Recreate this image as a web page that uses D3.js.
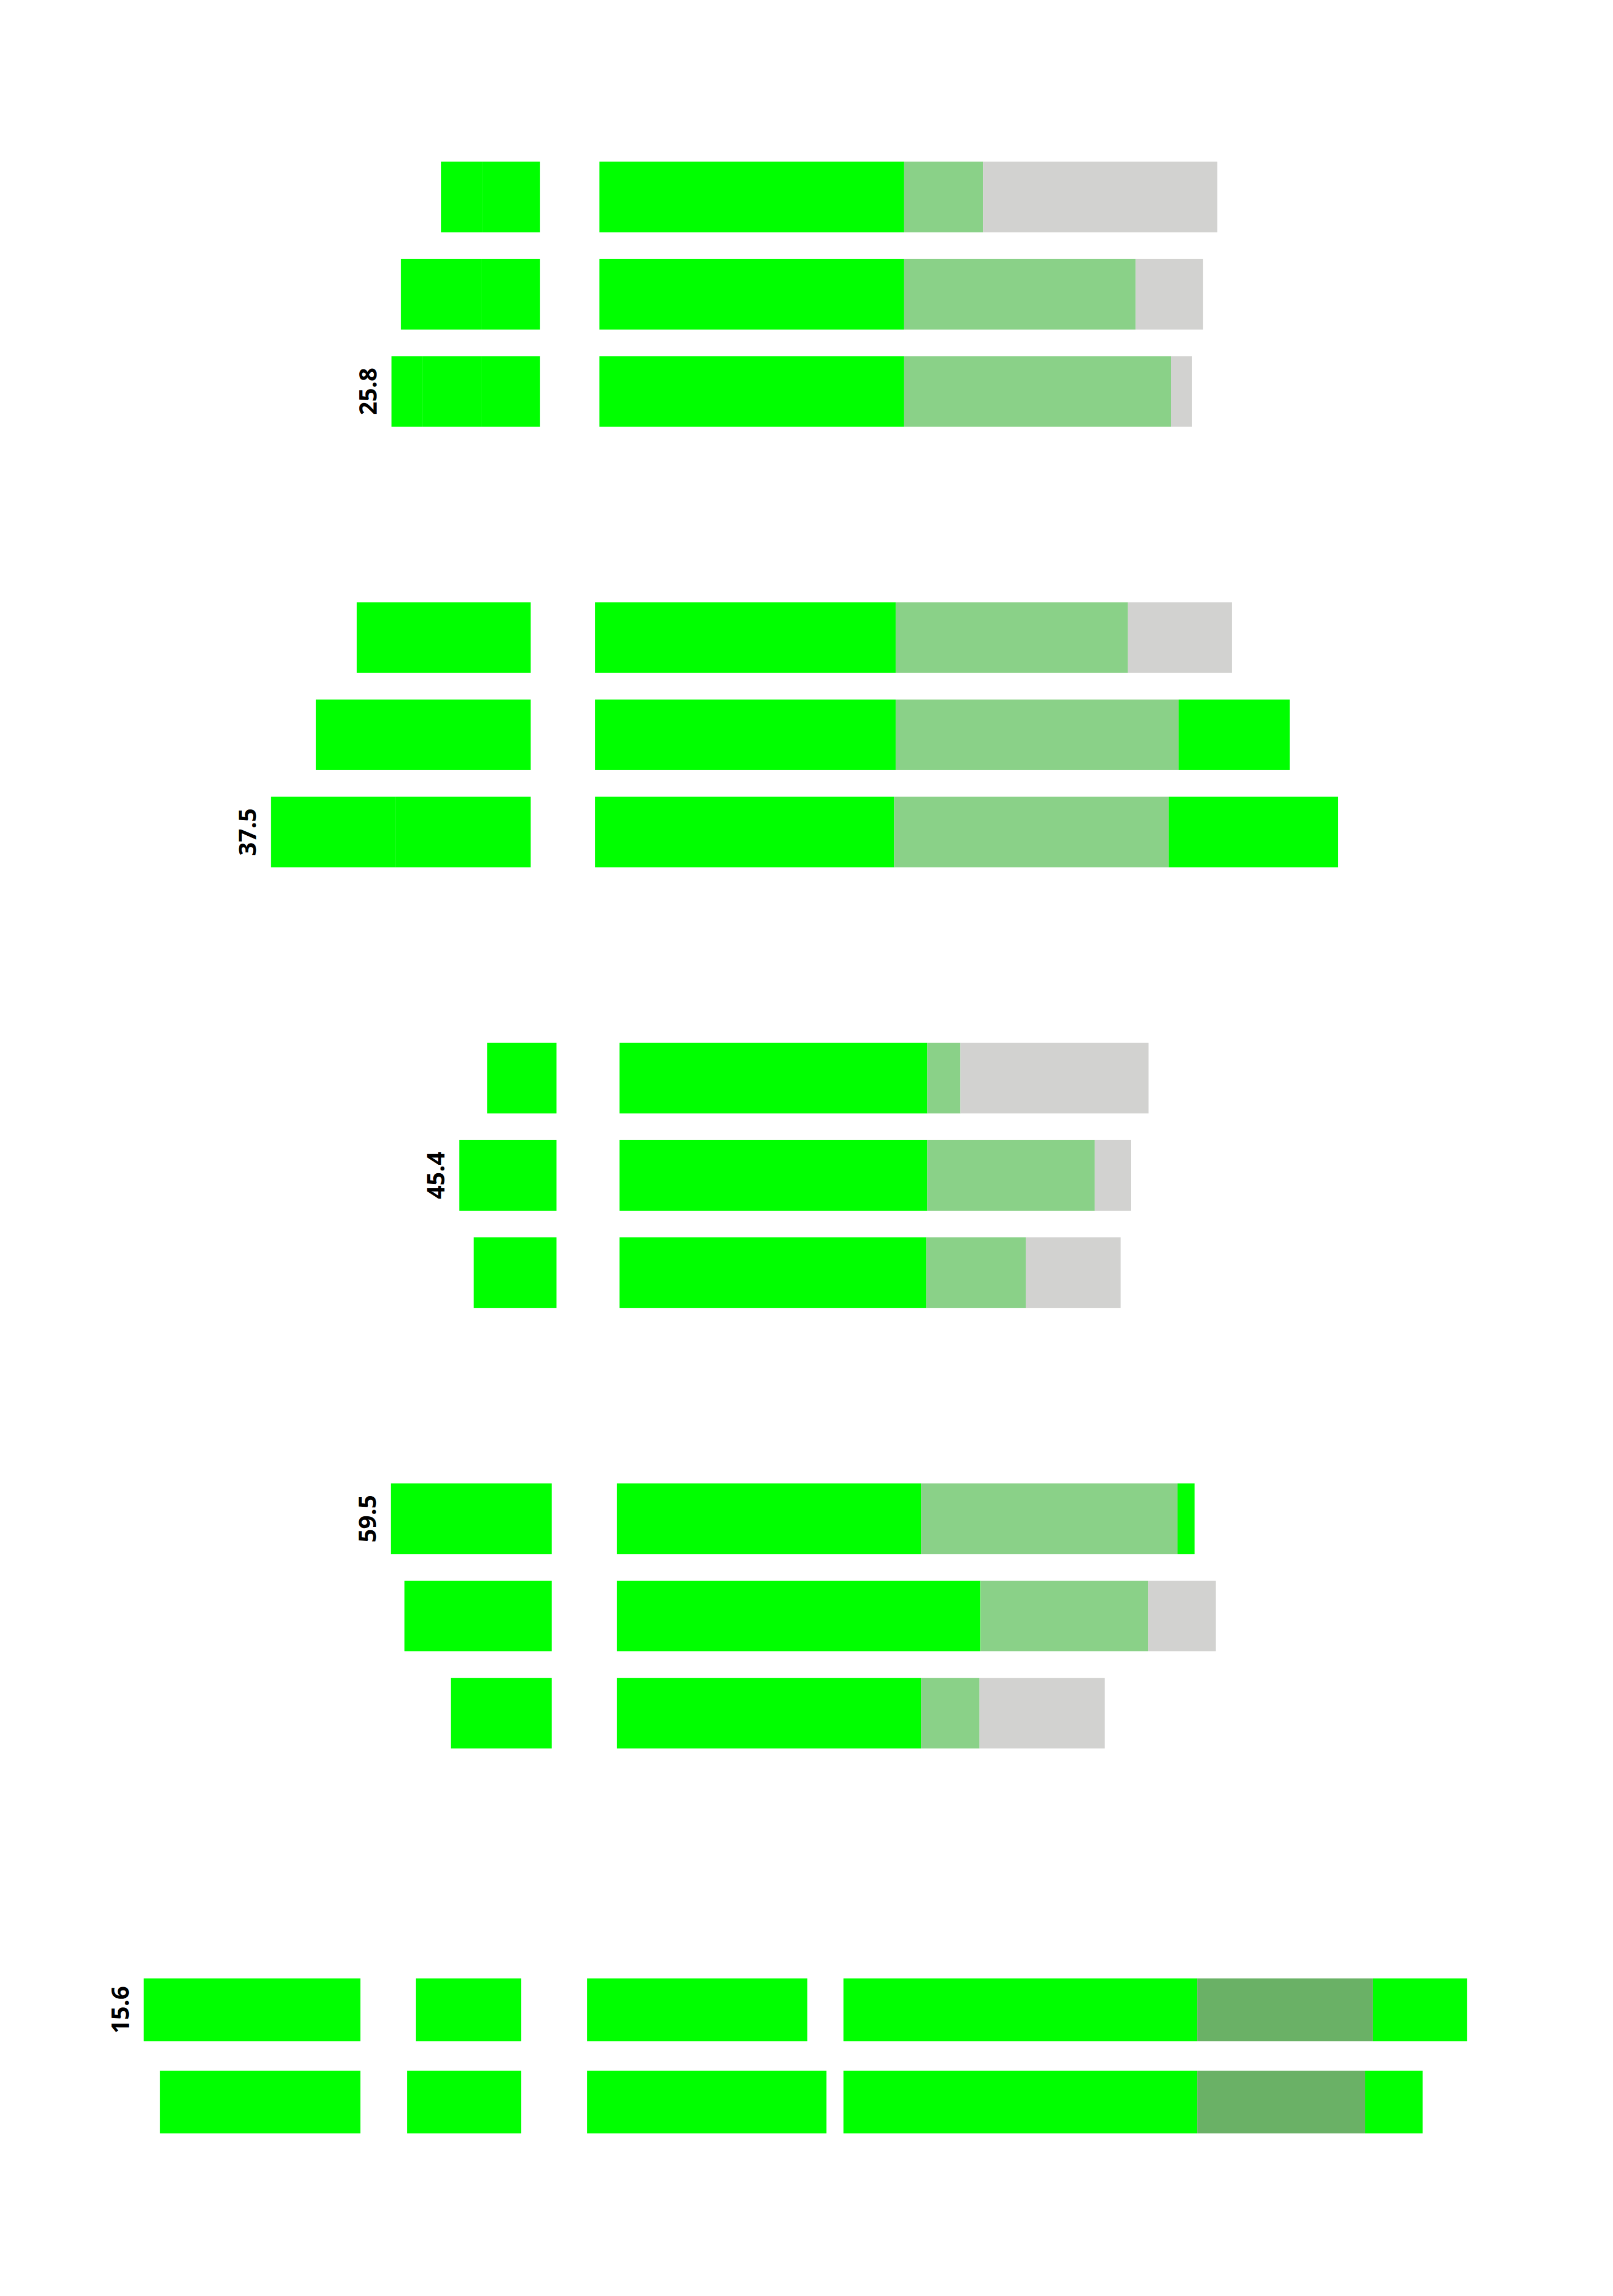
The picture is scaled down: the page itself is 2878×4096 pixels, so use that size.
<!DOCTYPE html>
<html>
<head>
<meta charset="utf-8">
<script src="https://cdn.jsdelivr.net/npm/d3@7"></script>
<style>
  html, body { margin: 0; padding: 0; background: #ffffff; }
  svg { display: block; }
</style>
</head>
<body>
<div id="chart"></div>
<script>
// ---------------- DATA ----------------
// group labels and the row that carries each label
const groupLabels = ["25.8", "37.5", "45.4", "59.5", "15.6"];
const labelRows   = [2, 2, 1, 0, 0];

// left-hand (leftward) stacked bars, groups 1-4: segment lengths from inner edge outward
const leftValues = [
  [[11.1, 8.0], [11.3, 15.6], [11.3, 11.4, 6.0]],
  [[33.6], [41.5], [26.1, 24.1]],
  [[13.4], [18.8], [16.0]],
  [[31.1], [28.5], [19.5]]
];

// right-hand stacked bars, groups 1-4
const rightValues = [
  [[58.9, 15.3, 45.3], [58.9, 44.8, 13.0], [58.9, 51.6, 4.1]],
  [[58.1, 44.9, 20.1], [58.1, 54.7, 21.5], [57.8, 53.1, 32.7]],
  [[59.5, 6.4, 36.4], [59.5, 32.4, 7.0], [59.3, 19.3, 18.3]],
  [[58.8, 49.6, 3.3], [70.3, 32.4, 13.1], [58.8, 11.3, 24.2]]
];
const rightKeys = [
  [["A", "B", "C"], ["A", "B", "C"], ["A", "B", "C"]],
  [["A", "B", "C"], ["A", "B", "D"], ["A", "B", "D"]],
  [["A", "B", "C"], ["A", "B", "C"], ["A", "B", "C"]],
  [["A", "B", "D"], ["A", "B", "C"], ["A", "B", "C"]]
];

// group 5 (two rows, four bars each)
const g5BarA = [41.9, 38.8];   // leftward
const g5BarB = [20.4, 22.1];   // leftward
const g5BarC = [42.6, 46.3];   // rightward
const g5BarD = [[68.4, 34.0, 18.2], [68.4, 32.5, 11.1]]; // rightward stacked
const g5KeysD = ["A", "E", "D"];

// ---------------- LAYOUT / STYLE ----------------
const W = 2878, H = 4096, REF_W = 3119;
const k = W / REF_W;
const colors = { A: "#00FF00", B: "#8AD188", C: "#D2D2D0", D: "#00FF00", E: "#6AB166" };
// origins (value units) per group: [left anchor, right start]
const origins = [[104.4, 115.9], [102.6, 115.1], [107.6, 119.8], [106.7, 119.3]];
const g5Origins = { a: 69.7, b: 100.8, c: 113.5, d: 163.1 };

const X = d3.scaleLinear().domain([0, 311.9]).range([0, REF_W]);

const groupY = d3.scaleBand().domain(d3.range(4)).range([312.6, 312.6 + 4 * 851.8]);
const rowY = d3.scaleBand().domain(d3.range(3)).range([0, 188 * 3 - (188 - 136.5)])
  .paddingInner((188 - 136.5) / 188).paddingOuter(0);
const g5Y = d3.scaleBand().domain(d3.range(2)).range([3825, 3825 + 178.3 * 2 - (178.3 - 121.3)])
  .paddingInner((178.3 - 121.3) / 178.3).paddingOuter(0);

const svg = d3.select("#chart").append("svg")
  .attr("width", W).attr("height", H);
svg.append("rect").attr("width", W).attr("height", H).attr("fill", "#ffffff");
const root = svg.append("g").attr("transform", `scale(${k})`);

function drawStack(g, y, h, start, vals, keys, dir) {
  let cur = start;
  vals.forEach((v, i) => {
    const nx = cur + dir * v;
    const x0 = Math.min(cur, nx), x1 = Math.max(cur, nx);
    g.append("rect")
      .attr("x", X(x0)).attr("y", y)
      .attr("width", X(x1) - X(x0)).attr("height", h)
      .attr("fill", colors[keys ? keys[i] : "A"]);
    cur = nx;
  });
  return cur;
}

function drawLabel(text, leftEdge, yCenter) {
  const cx = X(leftEdge) - 47;
  root.append("text")
    .attr("transform", `translate(${cx},${yCenter}) rotate(-90)`)
    .attr("text-anchor", "middle")
    .attr("dominant-baseline", "central")
    .attr("font-family", "'Open Sans', 'Noto Sans', sans-serif")
    .attr("font-weight", 700)
    .attr("font-size", 46)
    .attr("fill", "#000000")
    .text(text);
}

// groups 1-4
leftValues.forEach((rows, gi) => {
  const g = root.append("g");
  rows.forEach((segs, ri) => {
    const y = groupY(gi) + rowY(ri);
    const h = rowY.bandwidth();
    const leftEnd = drawStack(g, y, h, origins[gi][0], segs, null, -1);
    drawStack(g, y, h, origins[gi][1], rightValues[gi][ri], rightKeys[gi][ri], 1);
    if (ri === labelRows[gi]) drawLabel(groupLabels[gi], leftEnd, y + h / 2);
  });
});

// group 5
const g5 = root.append("g");
d3.range(2).forEach(ri => {
  const y = g5Y(ri), h = g5Y.bandwidth();
  const leftEnd = drawStack(g5, y, h, g5Origins.a, [g5BarA[ri]], null, -1);
  drawStack(g5, y, h, g5Origins.b, [g5BarB[ri]], null, -1);
  drawStack(g5, y, h, g5Origins.c, [g5BarC[ri]], null, 1);
  drawStack(g5, y, h, g5Origins.d, g5BarD[ri], g5KeysD, 1);
  if (ri === labelRows[4]) drawLabel(groupLabels[4], leftEnd, y + h / 2);
});
</script>
</body>
</html>
